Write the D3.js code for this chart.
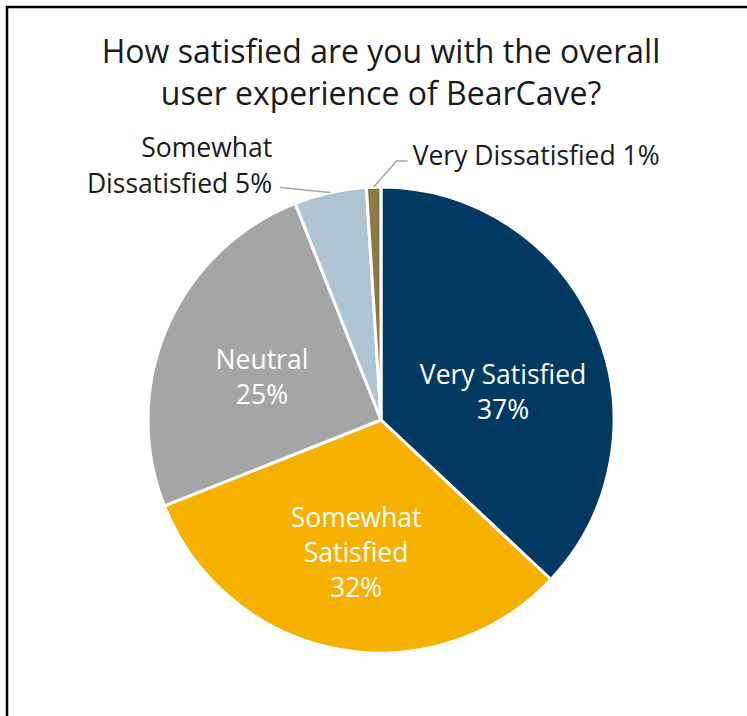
<!DOCTYPE html>
<html lang="en">
<head>
<meta charset="UTF-8">
<title>BearCave satisfaction</title>
<style>
    body{ margin:0; background:#fff; }
    svg{ display:block; }
    text{ font-family: "Open Sans", sans-serif; }
    .title{ font-size:32px; fill:#1a1a1a; }
    .inLabel{ font-size:26.5px; fill:#fff; }
    .outLabel{ font-size:26.5px; fill:#1a1a1a; }
    .leader{ stroke:#a6a6a6; stroke-width:1.5px; fill:none; }
</style>
<script src="https://cdn.jsdelivr.net/npm/d3@7"></script>
</head>
<body>
<script>
    // data
    const categories = ["Very Satisfied", "Somewhat Satisfied", "Neutral", "Somewhat Dissatisfied", "Very Dissatisfied"];
    const percents = [37, 32, 25, 5, 1];
    const colors = ["#003a63", "#f5b000", "#a5a5a5", "#aec4d2", "#8c7a45"];
    const titleLines = ["How satisfied are you with the overall", "user experience of BearCave?"];

    const width = 747, height = 716;
    const cx = 381, cy = 420, radius = 233;

    const svg = d3.select("body").append("svg")
        .attr("width", width)
        .attr("height", height);

    // frame, running off the right and bottom edges
    svg.append("rect")
        .attr("x", 7).attr("y", 7)
        .attr("width", 800).attr("height", 800)
        .attr("fill", "none")
        .attr("stroke", "#000")
        .attr("stroke-width", 2.5);

    svg.append("text")
        .attr("class", "title")
        .attr("text-anchor", "middle")
        .selectAll("tspan")
        .data(titleLines)
        .enter()
        .append("tspan")
        .attr("x", cx)
        .attr("y", (d, i) => 63 + i * 42)
        .text(d => d);

    const data = categories.map((c, i) => ({name: c, value: percents[i], color: colors[i]}));

    const pie = d3.pie().sort(null).value(d => d.value);
    const arcs = pie(data);

    const arc = d3.arc().innerRadius(0).outerRadius(radius);
    const labelArc = d3.arc().innerRadius(133).outerRadius(133);
    const edgeArc = d3.arc().innerRadius(radius).outerRadius(radius);

    const g = svg.append("g").attr("transform", `translate(${cx},${cy})`);

    g.selectAll("path.slice")
        .data(arcs)
        .enter()
        .append("path")
        .attr("class", "slice")
        .attr("d", arc)
        .attr("fill", d => d.data.color)
        .attr("stroke", "#fff")
        .attr("stroke-width", 3)
        .attr("stroke-linejoin", "round");

    // labels inside the big slices
    const inside = {
        "Very Satisfied": {lines: ["Very Satisfied", "37%"], dy: 26, dx: 0},
        "Somewhat Satisfied": {lines: ["Somewhat", "Satisfied", "32%"], dy: 3, dx: 0},
        "Neutral": {lines: ["Neutral", "25%"], dy: 11, dx: 3}
    };
    const lineH = 35;

    arcs.filter(d => inside[d.data.name]).forEach(d => {
        const info = inside[d.data.name];
        const [x, y] = labelArc.centroid(d);
        const n = info.lines.length;
        g.append("text")
            .attr("class", "inLabel")
            .attr("text-anchor", "middle")
            .selectAll("tspan")
            .data(info.lines)
            .enter()
            .append("tspan")
            .attr("x", x + info.dx)
            .attr("y", (t, i) => y + info.dy + (i - (n - 1) / 2) * lineH + 8)
            .text(t => t);
    });

    // outside labels with leader lines
    const sd = arcs[3], vd = arcs[4];
    const [sx, sy] = edgeArc.centroid(sd);
    g.append("polyline")
        .attr("class", "leader")
        .attr("points", [[sx, sy], [sx - 50, sy - 5]].map(p => p.join(",")).join(" "));
    g.append("text")
        .attr("class", "outLabel")
        .attr("text-anchor", "end")
        .selectAll("tspan")
        .data(["Somewhat", "Dissatisfied " + percents[3] + "%"])
        .enter()
        .append("tspan")
        .attr("x", sx - 58)
        .attr("y", (t, i) => sy - 36 + i * 36)
        .text(t => t);

    const [vx, vy] = edgeArc.centroid(vd);
    g.append("polyline")
        .attr("class", "leader")
        .attr("points", [[vx, vy], [vx + 23, vy - 26], [vx + 34, vy - 26]].map(p => p.join(",")).join(" "));
    g.append("text")
        .attr("class", "outLabel")
        .attr("x", vx + 39)
        .attr("y", vy - 26 + 4)
        .text("Very Dissatisfied " + percents[4] + "%");
</script>
</body>
</html>
